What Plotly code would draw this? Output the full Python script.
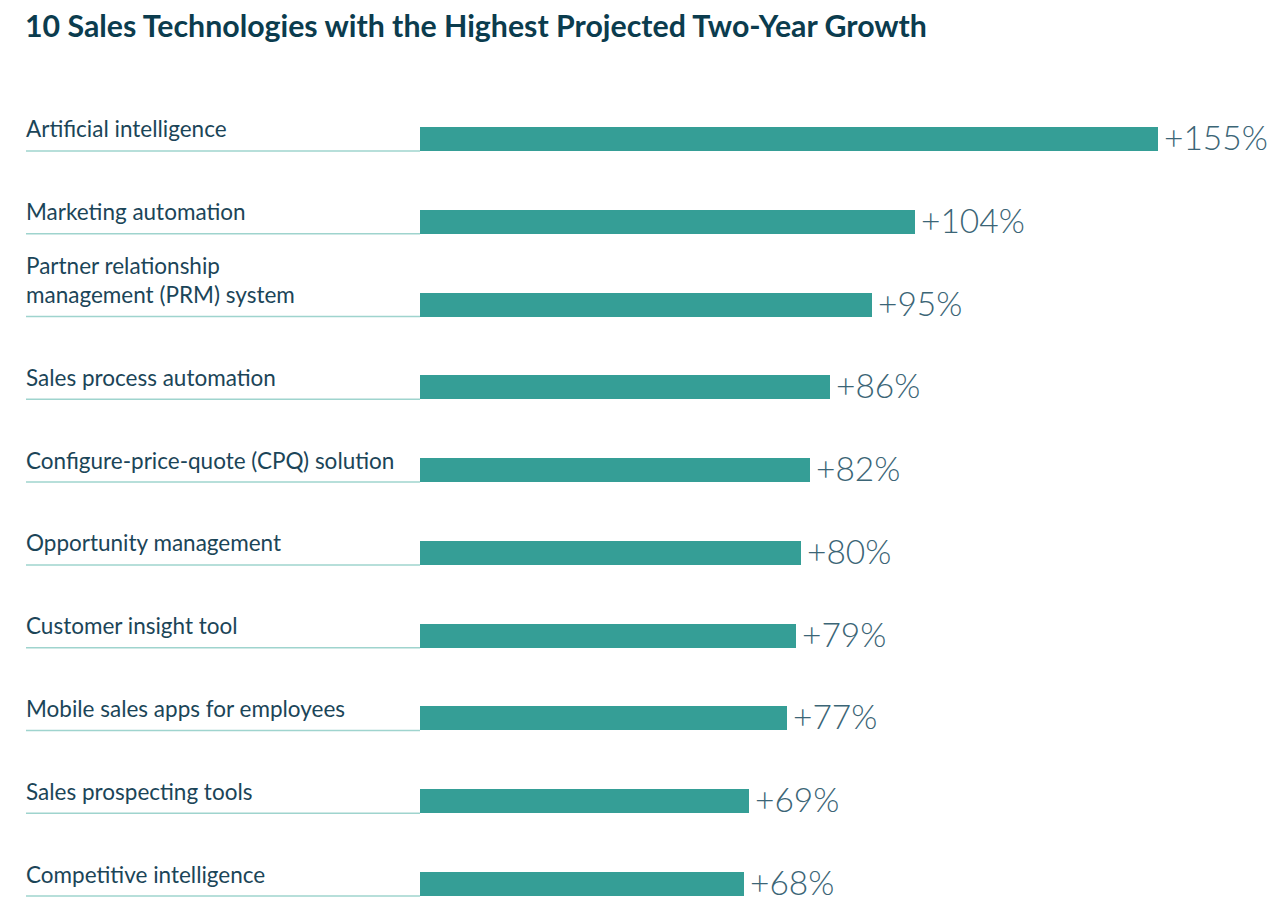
import plotly.graph_objects as go

categories = [
    "Artificial intelligence",
    "Marketing automation",
    "Partner relationship<br>management (PRM) system",
    "Sales process automation",
    "Configure-price-quote (CPQ) solution",
    "Opportunity management",
    "Customer insight tool",
    "Mobile sales apps for employees",
    "Sales prospecting tools",
    "Competitive intelligence",
]
values = [155, 104, 95, 86, 82, 80, 79, 77, 69, 68]
value_labels = ["+155%", "+104%", "+95%", "+86%", "+82%", "+80%", "+79%", "+77%", "+69%", "+68%"]

W, H = 1286, 910
BAR_COLOR = "#359e96"
LINE_COLOR = "#9fd4ce"
TEXT_COLOR = "#1b4558"
VALUE_COLOR = "#3b6576"
TITLE_COLOR = "#0b3c4e"
FONT = "Lato"
bar_w = 0.29

idx = list(range(len(categories)))

fig = go.Figure()
fig.add_trace(go.Bar(
    x=values, y=idx, orientation="h",
    marker=dict(color=BAR_COLOR, line=dict(width=0)),
    width=bar_w, hoverinfo="skip", showlegend=False,
))

annotations = []
shapes = []
for i, (cat, v, lab) in enumerate(zip(categories, values, value_labels)):
    nlines = cat.count("<br>") + 1
    annotations.append(dict(
        x=24 / W, xref="paper", y=i, yref="y",
        text=cat, showarrow=False, xanchor="left", yanchor="middle",
        align="left", yshift=10 + (nlines - 1) * 14.5,
        font=dict(family=FONT, size=22.5, color=TEXT_COLOR),
    ))
    annotations.append(dict(
        x=v, xref="x", y=i, yref="y", text=lab, showarrow=False,
        xanchor="left", yanchor="middle", xshift=4, yshift=2,
        font=dict(family=FONT, size=33.5, color=VALUE_COLOR, weight=300),
    ))
    shapes.append(dict(
        type="line", xref="paper", yref="y",
        x0=26 / W, x1=420 / W, y0=i + bar_w / 2, y1=i + bar_w / 2,
        line=dict(color=LINE_COLOR, width=1.5),
    ))

fig.update_layout(
    width=W, height=H,
    margin=dict(l=0, r=0, t=97, b=0),
    paper_bgcolor="white", plot_bgcolor="white",
    title=dict(
        text="<b>10 Sales Technologies with the Highest Projected Two-Year Growth</b>",
        x=25 / W, xref="container", xanchor="left",
        y=1 - 26 / H, yref="container", yanchor="middle",
        font=dict(family=FONT, size=30.3, color=TITLE_COLOR),
    ),
    xaxis=dict(domain=[420 / W, 1], range=[0, (W - 420) / 4.762],
               visible=False, fixedrange=True),
    yaxis=dict(range=[9.314, -0.507], visible=False, fixedrange=True),
    annotations=annotations, shapes=shapes,
    bargap=0,
)

fig.write_html("out.html", config={"displayModeBar": False},
               post_script="document.body.style.margin='0';document.body.style.overflow='hidden';")
